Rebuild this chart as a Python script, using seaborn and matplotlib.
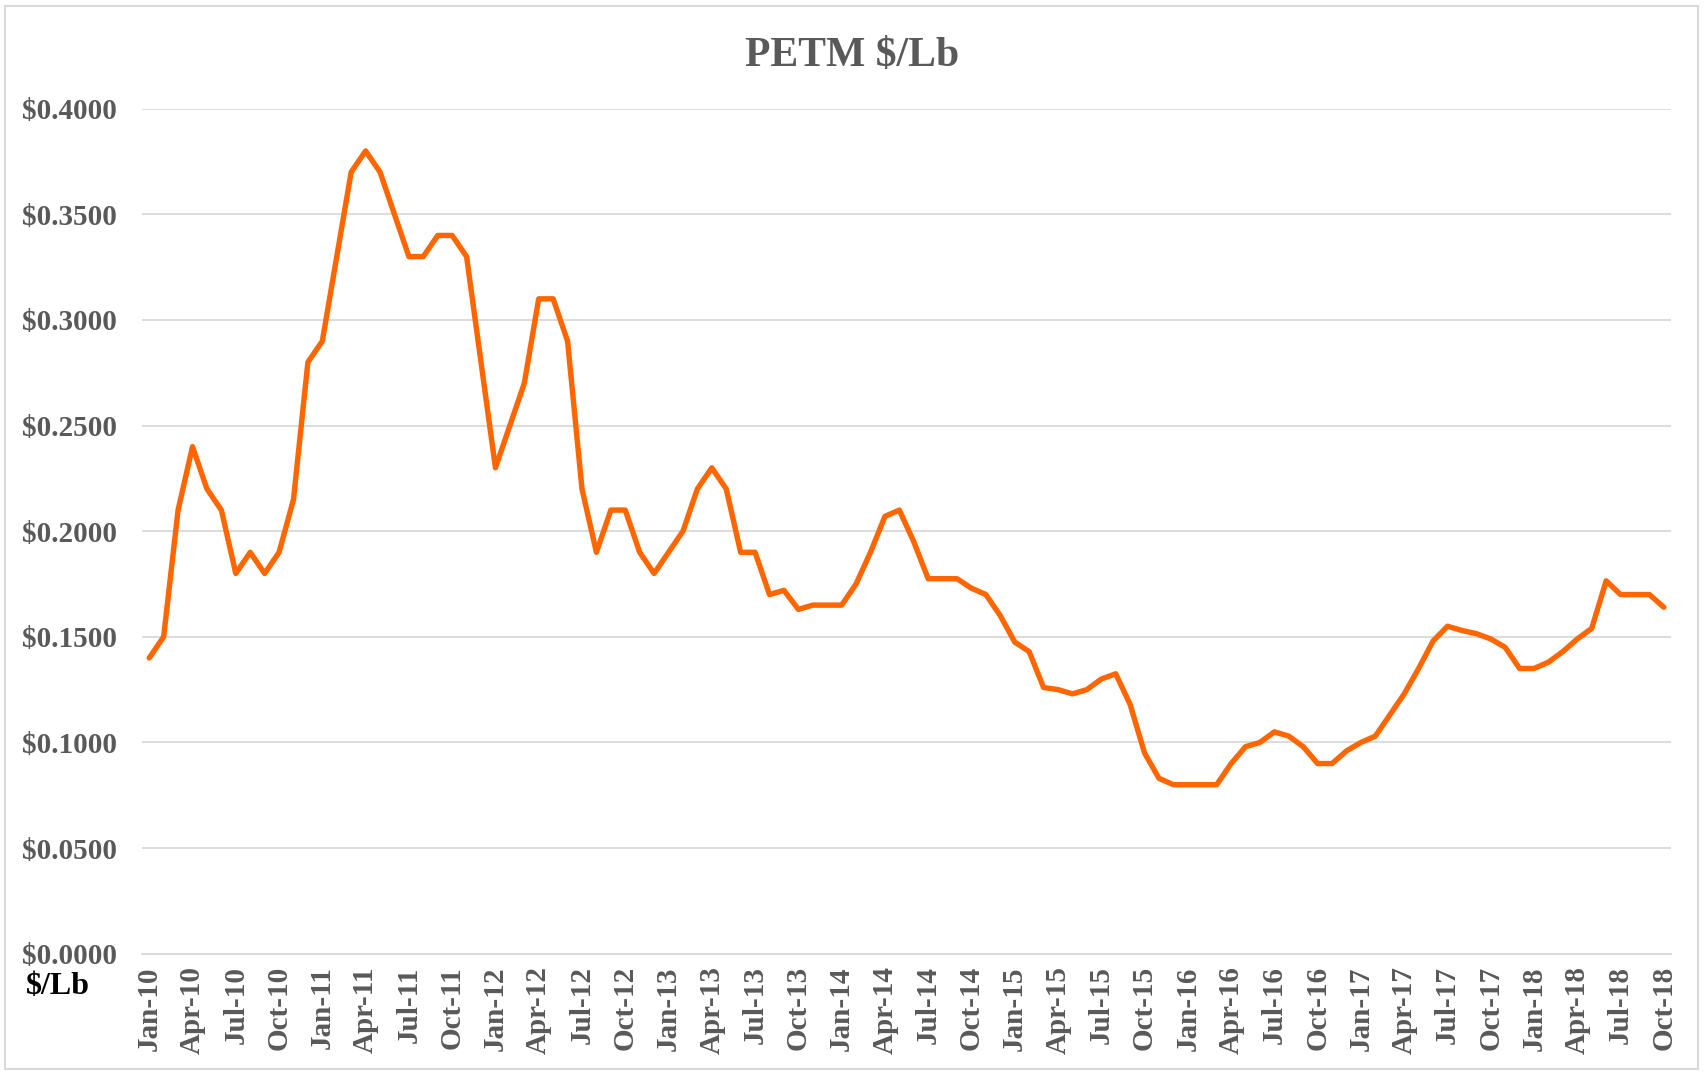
import matplotlib

matplotlib.use("Agg")

import matplotlib.pyplot as plt
import numpy as np
import pandas as pd
import seaborn as sns
from matplotlib.patches import Rectangle
from matplotlib.ticker import FuncFormatter

MONTHS = pd.date_range("2010-01-01", "2018-10-01", freq="MS")
PRICE_2010 = [0.140, 0.150, 0.210, 0.240, 0.220, 0.210, 0.180, 0.190, 0.180, 0.190, 0.215, 0.280]
PRICE_2011 = [0.290, 0.330, 0.370, 0.380, 0.370, 0.350, 0.330, 0.330, 0.340, 0.340, 0.330, 0.280]
PRICE_2012 = [0.230, 0.250, 0.270, 0.310, 0.310, 0.290, 0.220, 0.190, 0.210, 0.210, 0.190, 0.180]
PRICE_2013 = [0.190, 0.200, 0.220, 0.230, 0.220, 0.190, 0.190, 0.170, 0.172, 0.163, 0.165, 0.165]
PRICE_2014 = [0.165, 0.175, 0.190, 0.207, 0.210, 0.195, 0.1775, 0.1775, 0.1775, 0.173, 0.170, 0.160]
PRICE_2015 = [0.1475, 0.143, 0.126, 0.125, 0.123, 0.125, 0.130, 0.1325, 0.118, 0.095, 0.083, 0.080]
PRICE_2016 = [0.080, 0.080, 0.080, 0.090, 0.098, 0.100, 0.105, 0.103, 0.098, 0.090, 0.090, 0.096]
PRICE_2017 = [0.100, 0.103, 0.113, 0.123, 0.135, 0.148, 0.155, 0.153, 0.1515, 0.149, 0.145, 0.135]
PRICE_2018 = [0.135, 0.138, 0.143, 0.149, 0.154, 0.1765, 0.170, 0.170, 0.170, 0.164]
Y_TICKS = [0.0, 0.05, 0.10, 0.15, 0.20, 0.25, 0.30, 0.35, 0.40]

LINE_COLOR = "#FF6600"
TEXT_GRAY = "#595959"
GRID_GRAY = "#D9D9D9"


def main() -> None:
    prices = (PRICE_2010 + PRICE_2011 + PRICE_2012 + PRICE_2013 + PRICE_2014
              + PRICE_2015 + PRICE_2016 + PRICE_2017 + PRICE_2018)
    df = pd.DataFrame({"idx": np.arange(len(MONTHS)), "price": prices})
    tick_idx = np.arange(0, len(MONTHS), 3)
    tick_labels = [MONTHS[i].strftime("%b-%y") for i in tick_idx]

    sns.set_style("white")
    plt.rcParams["font.family"] = ["Liberation Serif", "DejaVu Serif"]
    plt.rcParams["font.weight"] = "bold"

    fig = plt.figure(figsize=(17.05, 10.73), dpi=100)
    ax = fig.add_axes([0.0833, 0.1112, 0.8968, 0.7875])

    sns.lineplot(data=df, x="idx", y="price", color=LINE_COLOR, linewidth=3.9, ax=ax)
    for line in ax.get_lines():
        line.set_solid_joinstyle("round")
        line.set_solid_capstyle("round")

    ax.set_xlim(-0.5, len(MONTHS) - 0.5)
    ax.set_ylim(0, 0.4)
    ax.set_yticks(Y_TICKS)
    ax.yaxis.set_major_formatter(FuncFormatter(lambda v, _: f"${v:.4f}"))
    ax.grid(axis="y", color=GRID_GRAY, linewidth=1.3)
    ax.set_axisbelow(True)

    ax.set_xticks(tick_idx)
    ax.set_xticklabels(tick_labels, rotation=90)
    ax.set_xticks(np.arange(-0.5, len(MONTHS), 3), minor=True)
    ax.tick_params(axis="x", which="major", length=0, pad=9, labelsize=21, labelcolor=TEXT_GRAY)
    ax.tick_params(axis="x", which="minor", length=6, width=1.2, color=GRID_GRAY, direction="out")
    ax.tick_params(axis="y", length=0, pad=18, labelsize=21, labelcolor=TEXT_GRAY)
    for label in ax.get_xticklabels() + ax.get_yticklabels():
        label.set_fontweight("bold")

    for side in ["top", "right", "left"]:
        ax.spines[side].set_visible(False)
    ax.spines["bottom"].set_color(GRID_GRAY)
    ax.spines["bottom"].set_linewidth(1.3)

    ax.set_xlabel("")
    ax.set_ylabel("")

    fig.text(0.5, 0.948, "PETM $/Lb", ha="center", va="center", fontsize=30,
             fontweight="bold", color=TEXT_GRAY)
    fig.text(0.034, 0.081, "$/Lb", ha="center", va="center", fontsize=23,
             fontweight="bold", color="black")

    fig.patches.append(Rectangle((0.003, 0.004), 0.993, 0.99, transform=fig.transFigure,
                                 fill=False, edgecolor=GRID_GRAY, linewidth=1.5))

    fig.savefig("out.png", dpi=100)
    plt.close(fig)


if __name__ == "__main__":
    main()
